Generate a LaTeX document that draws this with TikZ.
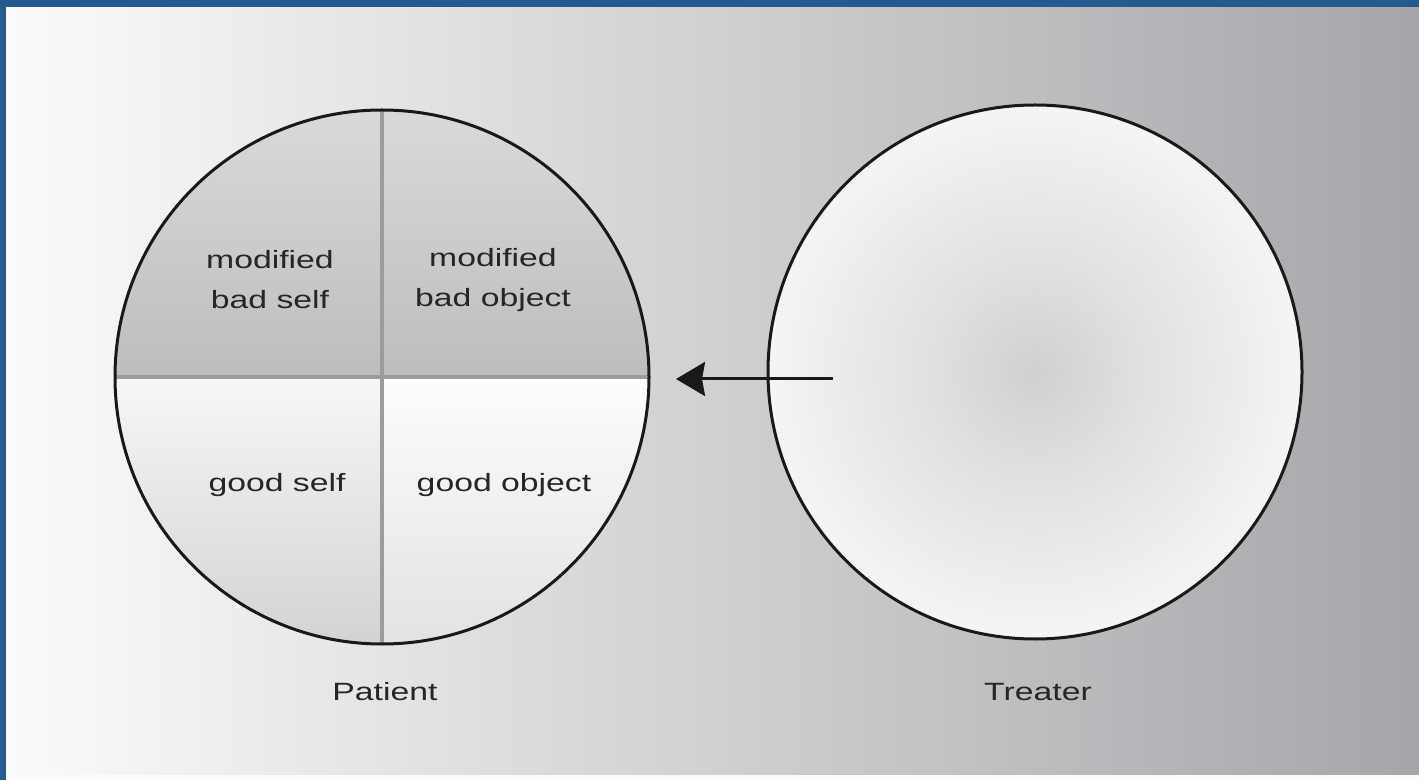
\documentclass[tikz,border=0pt]{standalone}
\usepackage{fontspec}
\setmainfont{Liberation Sans}[FakeStretch=1.35]
\usetikzlibrary{arrows.meta}

\definecolor{frameblue}{HTML}{245A8E}
\definecolor{bgleft}{HTML}{FBFBFB}
\definecolor{bgright}{HTML}{A6A6AA}
\definecolor{badtop}{HTML}{DADADC}
\definecolor{badbot}{HTML}{BDBDC0}
\definecolor{goodtop}{HTML}{F7F7F7}
\definecolor{goodbot}{HTML}{D2D2D4}
\definecolor{objtop}{HTML}{FDFDFD}
\definecolor{objbot}{HTML}{E2E2E3}
\definecolor{divgrey}{HTML}{9C9C9F}
\definecolor{treatergrey}{HTML}{D0D0D2}

\pgfdeclareradialshading{treatershade}{\pgfpoint{0bp}{0bp}}{color(0bp)=(treatergrey); color(10bp)=(treatergrey!65!white); color(33bp)=(white); color(50bp)=(white)}

\begin{document}
\begin{tikzpicture}[x=1pt,y=1pt]
	\tikzset{disc/.style = {shape=circle, draw=black!90, line width=3pt, minimum size=534pt, inner sep=0pt}}
	\tikzset{txt/.style = {font=\fontsize{25}{40}\selectfont, align=center, text=black!85}}
	\tikzset{edge/.style = {line width=3pt, draw=black!90, -{Stealth[length=29pt,width=34pt,inset=3pt]}}}
	\tikzset{divider/.style = {draw=divgrey, line width=3.5pt}}

	\useasboundingbox (0,0) rectangle (1419,780);
	\fill[frameblue] (0,0) rectangle (1419,780);
	\shade[left color=bgleft, right color=bgright] (6,5) rectangle (1419,772);
	\fill[bgleft] (6,0) rectangle (1419,5);

	% patient quadrants
	\begin{scope}
		\clip (382,403) circle (267);
		\shade[top color=badtop, bottom color=badbot] (110,403) rectangle (382,675);
		\shade[top color=badtop, bottom color=badbot] (382,403) rectangle (655,675);
		\shade[top color=goodtop, bottom color=goodbot] (110,130) rectangle (382,403);
		\shade[top color=objtop, bottom color=objbot] (382,130) rectangle (655,403);
		\draw[divider] (110,403) -- (655,403);
		\draw[divider] (382,130) -- (382,675);
	\end{scope}

	\node[disc] (patient) at (382,403) {};
	\node[disc, shading=treatershade] (treater) at (1035,408) {};

	\node[txt] (mbs) at (270,500) {modified\\bad self};
	\node[txt] (mbo) at (493,500) {modified\\bad object};
	\node[txt, anchor=base] (gs) at (277,288) {good self};
	\node[txt, anchor=base] (go) at (504,288) {good object};

	\node[txt, anchor=base] (pl) at (385,80) {Patient};
	\node[txt, anchor=base] (tl) at (1038,80) {Treater};

	\coordinate (from) at (833,401);
	\coordinate (to) at (676,401);
	\draw[edge] (from) -- (to);

\end{tikzpicture}
\end{document}
